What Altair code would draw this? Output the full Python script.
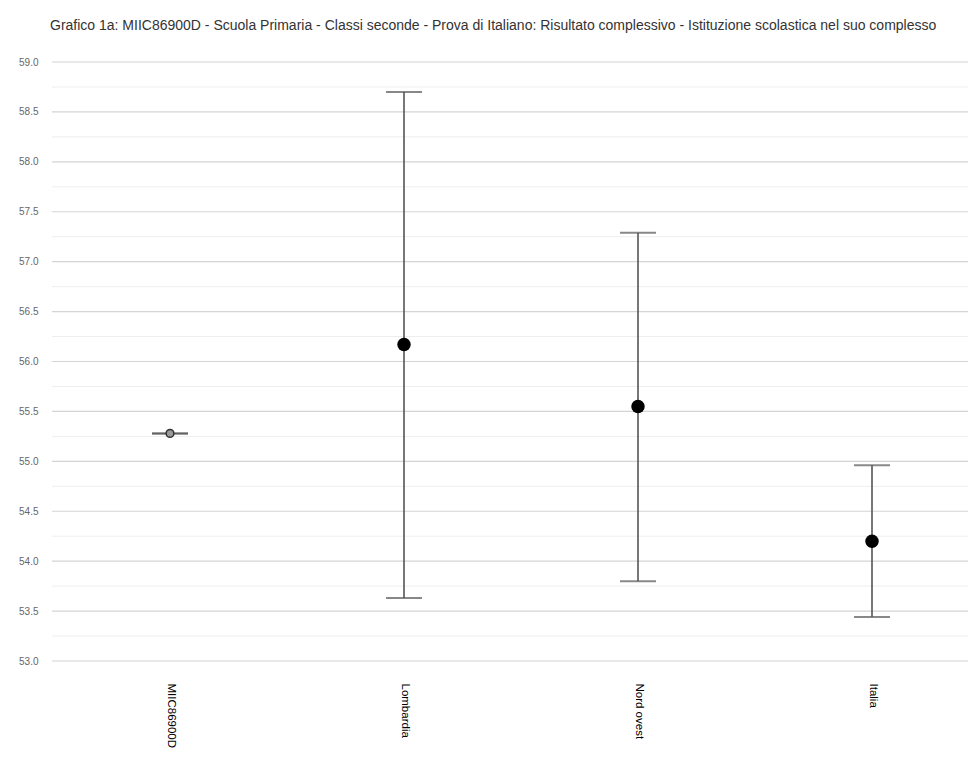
import altair as alt
import pandas as pd

categories = ["MIIC86900D", "Lombardia", "Nord ovest", "Italia"]
means = [55.28, 56.17, 55.55, 54.20]
lowers = [55.28, 53.63, 53.80, 53.44]
uppers = [55.28, 58.70, 57.29, 54.96]
major_ticks = [53.0, 53.5, 54.0, 54.5, 55.0, 55.5, 56.0, 56.5, 57.0, 57.5, 58.0, 58.5, 59.0]
minor_ticks = [53.25, 53.75, 54.25, 54.75, 55.25, 55.75, 56.25, 56.75, 57.25, 57.75, 58.25, 58.75]

title = ("Grafico 1a: MIIC86900D - Scuola Primaria - Classi seconde - Prova di Italiano: "
         "Risultato complessivo - Istituzione scolastica nel suo complesso")

df = pd.DataFrame({"cat": categories, "mean": means, "lo": lowers, "hi": uppers})
df["school"] = [c == "MIIC86900D" for c in categories]
minor_df = pd.DataFrame({"v": minor_ticks})
major_df = pd.DataFrame({"v": major_ticks})

W, H = 916, 599
yscale = alt.Scale(domain=[53, 59], nice=False, zero=False)
xscale = alt.Scale(type="point", domain=categories, range=[118, 820], padding=0)

x_enc = alt.X("cat:N", scale=xscale, sort=categories,
              axis=alt.Axis(title=None, labelAngle=90, labelAlign="left", labelBaseline="middle",
                            labelPadding=22, ticks=False, domain=False, grid=False,
                            labelFont="Liberation Sans", labelFontSize=11.5, labelColor="#000000"))

minor = alt.Chart(minor_df).mark_rule(color="#eeeeee", strokeWidth=1).encode(
    y=alt.Y("v:Q", scale=yscale)
)
major = alt.Chart(major_df).mark_rule(color="#d4d4d4", strokeWidth=1.2).encode(
    y=alt.Y("v:Q", scale=yscale,
            axis=alt.Axis(title=None, values=major_ticks, format=".1f", ticks=False, domain=False,
                          labelPadding=14, labelFont="Liberation Sans", labelFontSize=10,
                          labelColor="#666666", grid=False))
)

rules = alt.Chart(df).mark_rule(color="#555555", strokeWidth=1.6).encode(
    x=x_enc,
    y=alt.Y("lo:Q", scale=yscale),
    y2="hi:Q",
)

caps_hi = alt.Chart(df).mark_tick(color="#555555", thickness=2, size=36, orient="horizontal").encode(
    x=x_enc, y=alt.Y("hi:Q", scale=yscale)
)
caps_lo = alt.Chart(df).mark_tick(color="#555555", thickness=2, size=36, orient="horizontal").encode(
    x=x_enc, y=alt.Y("lo:Q", scale=yscale)
)

points_big = alt.Chart(df).transform_filter("!datum.school").mark_point(
    shape="circle", filled=True, color="#000000", size=180, opacity=1
).encode(x=x_enc, y=alt.Y("mean:Q", scale=yscale))

points_small = alt.Chart(df).transform_filter("datum.school").mark_point(
    shape="circle", filled=True, fill="#999999", stroke="#333333", strokeWidth=1.5, size=60, opacity=1
).encode(x=x_enc, y=alt.Y("mean:Q", scale=yscale))

chart = alt.layer(minor, major, rules, caps_hi, caps_lo, points_big, points_small).properties(
    width=W, height=H,
    title=alt.TitleParams(title, anchor="start", frame="group", offset=24, fontSize=14,
                          font="Liberation Sans", fontWeight="normal", color="#333333", dx=-2),
    autosize=alt.AutoSizeParams(type="none"),
    padding={"left": 44, "top": 54, "right": 0, "bottom": 100},
).configure_view(stroke=None)

chart.save("out.html", embed_options={"renderer": "svg", "actions": False})
